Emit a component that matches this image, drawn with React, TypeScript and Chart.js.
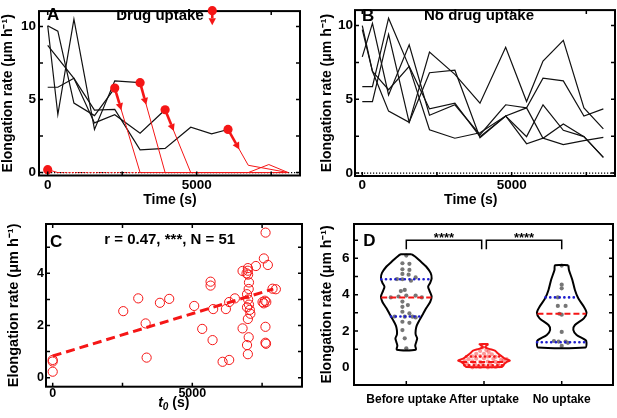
import { useEffect, useRef } from 'react';
import { Chart, registerables } from 'chart.js';

Chart.register(...registerables);

const FONT = "'Liberation Sans', Arial, Helvetica, sans-serif";
const RED = 'rgb(245, 22, 22)';
const BLUE = 'rgb(28, 28, 205)';
const GRAY = 'rgb(118, 118, 118)';
const PINK = 'rgba(250, 70, 70, 0.55)';
const Y_TITLE = 'Elongation rate (μm h⁻¹)';

// ---------------- data ----------------
const TIMES = [0, 340, 880, 1570, 2250, 3100, 3940, 4800, 5500, 6050, 6730, 7420, 8070];

// Panel A: before drug uptake (black) and after uptake (red)
const A_PRE_1 = [10.05, 9.68, 4.76, 3.9, 5.78];
const A_PRE_2 = [10.05, 3.97, 10.5, 2.95, 6.28, 6.15];
const A_PRE_3 = [8.7, null, 6.45, 3.4, 3.96, 2.7, 4.3];
const A_PRE_4 = [5.84, 5.84, 6.45, 4.28, 4.32, 1.55, 1.65, 3.1, 2.65, 2.95];
const A_POST_1 = [null, null, null, null, 5.78, 0, 0, 0, 0, 0, 0, 0, 0];
const A_POST_2 = [null, null, null, null, null, 6.15, 0, 0, 0, 0, 0, 0, 0];
const A_POST_3 = [null, null, null, null, null, null, 4.3, 0, 0, 0, 0, 0, 0];
const A_POST_4 = [null, null, null, null, null, null, null, null, null, 2.95, 0.5, null, 0];
const A_POST_5 = [0.2, 0, 0, 0, 0, 0, 0, 0, 0, 0, 0, 0.55, 0];

// Panel B: no drug uptake
const B_1 = [9.72, 6.9, 4.2, 3.44, 8.2, 6.69, 4.74, 8.53, 4.85, 7.6, 9.0, 4.42, 3.0];
const B_2 = [7.88, 10.15, 5.3, 8.7, 3.92, 4.63, 2.6, 4.63, 4.42, 6.43, 6.25, 3.87, 4.35];
const B_3 = [5.86, 5.86, 10.5, 7.2, 2.94, 2.36, 2.73, 3.87, 1.99, 2.36, 1.93, 2.2, 2.42];
const B_4 = [4.85, 4.85, 9.4, 3.44, 6.8, 6.97, 2.4, 3.87, 2.47, 4.63, 2.9, 2.47, 1.06];
const B_5 = [10.0, 6.9, 5.65, 7.23, 4.35, 4.74, 2.47, 3.87, 4.42, 2.36, 3.33, 2.47, 1.06];

// Panel C: rate vs t0
const C_T0 = [0, 0, 0, 2527, 3064, 3328, 3364, 3840, 4173, 5068, 5355, 5654, 5654, 5726, 5748, 6085, 6203, 6321, 6321, 6525, 6800, 6800, 6943, 6990, 6990, 7000, 7030, 7020, 6960, 7000, 7030, 6960, 7060, 7080, 6990, 7020, 6960, 6990, 7277, 7563, 7624, 7706, 7516, 7600, 7650, 7620, 7620, 7640, 7874, 7992, 7560];
const C_RATE = [0.68, 0.62, 0.23, 2.55, 3.04, 2.08, 0.77, 2.87, 3.02, 2.75, 1.87, 3.68, 3.53, 1.44, 2.63, 0.61, 2.63, 0.68, 2.9, 3.04, 1.89, 4.09, 4.0, 4.1, 4.2, 3.95, 3.65, 3.4, 3.2, 3.0, 2.8, 2.7, 2.6, 2.45, 2.25, 1.55, 1.25, 0.9, 4.28, 4.57, 5.56, 4.32, 2.9, 2.95, 2.9, 1.95, 1.34, 1.3, 3.41, 3.39, 2.85];
const C_FIT_T = [0, 7900];
const C_FIT_RATE = [0.83, 3.4];

// Panel D: violins
const CATS = ['Before uptake', 'After uptake', 'No uptake'];
const V1_Y = [6.22, 6.05, 5.8, 5.55, 5.2, 4.9, 4.65, 4.44, 4.2, 3.9, 3.6, 3.25, 2.95, 2.6, 2.3, 2.05, 1.8, 1.6, 1.4, 1.2, 0.97];
const V1_W = [0.07, 0.128, 0.192, 0.255, 0.313, 0.326, 0.307, 0.281, 0.3, 0.326, 0.307, 0.255, 0.217, 0.17, 0.134, 0.121, 0.121, 0.14, 0.128, 0.115, 0.121];
const V2_Y = [1.28, 1.12, 1.02, 0.92, 0.82, 0.7, 0.6, 0.48, 0.38, 0.3, 0.2, 0.1, 0.02];
const V2_W = [0.057, 0.013, 0.064, 0.14, 0.166, 0.198, 0.23, 0.268, 0.332, 0.294, 0.262, 0.249, 0.23];
const V3_Y = [5.62, 5.36, 4.81, 4.26, 3.8, 3.34, 3.01, 2.7, 2.33, 2.06, 1.78, 1.5, 1.36, 1.1];
const V3_W = [0.086, 0.093, 0.137, 0.17, 0.213, 0.285, 0.319, 0.285, 0.17, 0.149, 0.192, 0.307, 0.319, 0.307];
const V_QUART = [[2.8, 3.85, 4.85], [0.12, 0.3, 0.6], [1.38, 2.95, 3.85]];

const V1_DX = [-0.05, 0.04, -0.05, 0.04, -0.05, 0.03, -0.05, 0.06, 0.12, -0.02, -0.07, -0.1, 0.0, 0.12, -0.05, 0.02, -0.05, -0.05, 0.04, -0.02, 0.08, 0.12, -0.05, 0.04, -0.05, -0.02, 0.0, 0.0, -0.12, -0.2, 0.2, -0.15];
const V1_V = [5.73, 5.7, 5.4, 5.36, 5.14, 5.1, 4.85, 4.77, 4.95, 4.26, 4.2, 3.9, 3.95, 3.95, 3.62, 3.43, 3.33, 3.06, 2.97, 2.79, 2.79, 2.75, 2.51, 2.45, 2.05, 1.6, 1.05, 6.15, 4.86, 3.85, 3.85, 2.8];
const V2_DX = [-0.02, 0.03, -0.05, 0.06, -0.1, 0.0, 0.1, -0.15, -0.05, 0.05, 0.15, -0.2, -0.1, 0.0, 0.12, 0.22, 0.29, -0.25, -0.15, -0.05, 0.05, 0.15, 0.25, -0.22, -0.12, -0.02, 0.08, 0.18, -0.2, -0.1, 0.0, 0.1, 0.2, -0.15, -0.05, 0.05, 0.15];
const V2_V = [1.1, 0.95, 0.9, 0.85, 0.75, 0.75, 0.72, 0.6, 0.62, 0.6, 0.58, 0.45, 0.48, 0.5, 0.47, 0.42, 0.45, 0.35, 0.33, 0.3, 0.32, 0.3, 0.36, 0.2, 0.22, 0.18, 0.2, 0.22, 0.08, 0.05, 0.08, 0.05, 0.07, 0.0, 0.02, 0.0, 0.02];
const V3_DX = [0, 0, 0, -0.05, -0.05, 0.05, 0, -0.03, 0, -0.1, -0.04, 0.08, 0, 0.05];
const V3_V = [5.6, 4.55, 4.35, 3.85, 3.38, 3.38, 2.9, 2.95, 1.95, 1.45, 1.42, 1.35, 1.18, 1.42];

const BRACKETS = [[0, 0.97], [1.03, 2]];
const BRACKET_TOP = 7.0;
const BRACKET_LEG = 6.5;
const STARS = '****';

// ---------------- helpers ----------------
type P = { x: number; y: number };
const pts = (xs: number[], ys: (number | null)[]): P[] =>
  ys.map((y, i) => (y == null ? null : { x: xs[i], y })).filter((p): p is P => p !== null);

const line = (data: P[], color: string, width: number, extra: any = {}) => ({
  data, showLine: true, borderColor: color, borderWidth: width, pointRadius: 0,
  fill: false, tension: 0, ...extra,
});

function halfAt(ys: number[], ws: number[], v: number) {
  for (let i = 0; i < ys.length - 1; i++) {
    const a = ys[i], b = ys[i + 1];
    if ((v <= a && v >= b) || (v >= a && v <= b)) {
      const t = (v - a) / (b - a || 1);
      return ws[i] + t * (ws[i + 1] - ws[i]);
    }
  }
  return ws[ws.length - 1];
}

function violinPath(c: number, ys: number[], ws: number[]): P[] {
  const right = ys.map((y, i) => ({ x: c + ws[i], y }));
  const left = ys.map((y, i) => ({ x: c - ws[i], y })).reverse();
  return [...right, ...left, right[0]];
}

function drawArrow(ctx: CanvasRenderingContext2D, x0: number, y0: number, dx: number, dy: number, len: number) {
  const d = Math.hypot(dx, dy) || 1;
  const ux = dx / d, uy = dy / d;
  const hl = 7, hw = 3.7;
  const tx = x0 + ux * len, ty = y0 + uy * len;
  const bx = tx - ux * hl, by = ty - uy * hl;
  ctx.save();
  ctx.strokeStyle = RED; ctx.fillStyle = RED; ctx.lineWidth = 2.6;
  ctx.beginPath(); ctx.moveTo(x0, y0); ctx.lineTo(bx, by); ctx.stroke();
  ctx.beginPath(); ctx.moveTo(tx, ty);
  ctx.lineTo(bx - uy * hw, by + ux * hw); ctx.lineTo(bx + uy * hw, by - ux * hw);
  ctx.closePath(); ctx.fill();
  ctx.restore();
}

type Run = { t: string; size: number; italic?: boolean; dy?: number };
type Txt = { runs: Run[]; x: number; y: number; align?: 'left' | 'center'; color?: string };
const fontOf = (r: Run) => `${r.italic ? 'italic ' : ''}bold ${r.size}px ${FONT}`;
const T = (t: string, size: number, x: number, y: number, align: 'left' | 'center' = 'center'): Txt => ({ runs: [{ t, size }], x, y, align });

function drawTexts(ctx: CanvasRenderingContext2D, items: Txt[]) {
  ctx.save();
  ctx.textBaseline = 'alphabetic';
  ctx.textAlign = 'left';
  for (const it of items) {
    let total = 0;
    for (const r of it.runs) { ctx.font = fontOf(r); total += ctx.measureText(r.t).width; }
    let x = it.align === 'left' ? it.x : it.x - total / 2;
    ctx.fillStyle = it.color || '#000';
    for (const r of it.runs) {
      ctx.font = fontOf(r);
      ctx.fillText(r.t, x, it.y + (r.dy || 0));
      x += ctx.measureText(r.t).width;
    }
  }
  ctx.restore();
}

const framePlugin = (xt: number[], yt: number[], topTicks = true) => ({
  id: 'frame',
  afterDatasetsDraw(chart: any) {
    const { ctx, chartArea: a, scales } = chart;
    const L = 4;
    ctx.save();
    ctx.strokeStyle = '#000';
    ctx.lineWidth = 1.5;
    ctx.beginPath();
    xt.forEach((v) => {
      const p = scales.x.getPixelForValue(v);
      ctx.moveTo(p, a.bottom); ctx.lineTo(p, a.bottom - L);
      if (topTicks) { ctx.moveTo(p, a.top); ctx.lineTo(p, a.top + L); }
    });
    yt.forEach((v) => {
      const p = scales.y.getPixelForValue(v);
      ctx.moveTo(a.left, p); ctx.lineTo(a.left + L, p);
      ctx.moveTo(a.right, p); ctx.lineTo(a.right - L, p);
    });
    ctx.stroke();
    ctx.lineWidth = 2;
    ctx.strokeRect(a.left, a.top, a.right - a.left, a.bottom - a.top);
    ctx.restore();
  },
});

const zeroLinePlugin = {
  id: 'zeroLine',
  beforeDatasetsDraw(chart: any) {
    const { ctx, chartArea: a, scales } = chart;
    const y = scales.y.getPixelForValue(0);
    ctx.save();
    ctx.strokeStyle = '#000';
    ctx.lineWidth = 1.2;
    ctx.setLineDash([1.2, 1.8]);
    ctx.beginPath(); ctx.moveTo(a.left, y); ctx.lineTo(a.right, y); ctx.stroke();
    ctx.restore();
  },
};

const textPlugin = (fn: (chart: any) => Txt[], extra?: (chart: any) => void) => ({
  id: 'texts',
  afterDraw(chart: any) {
    drawTexts(chart.ctx, fn(chart));
    if (extra) extra(chart);
  },
});

interface AxisSpec {
  xmin: number; xmax: number; ymin: number; ymax: number;
  xTicks: number[]; yTicks: number[];
  xLabel: (v: number) => string;
  yW: number; xH: number;
  tickSize: number; xTickSize: number; xPad: number; yPad: number;
  yTitlePad: number; yTitleSize: number;
  pad: { left: number; top: number; right: number; bottom: number };
}

function makeOptions(s: AxisSpec): any {
  return {
    animation: false,
    responsive: false,
    events: [],
    layout: { padding: s.pad },
    plugins: { legend: { display: false }, tooltip: { enabled: false } },
    scales: {
      x: {
        type: 'linear', min: s.xmin, max: s.xmax,
        grid: { display: false, drawTicks: false }, border: { display: false },
        afterBuildTicks: (sc: any) => { sc.ticks = s.xTicks.map((v) => ({ value: v })); },
        afterFit: (sc: any) => { sc.height = s.xH; },
        ticks: {
          font: { family: FONT, size: s.xTickSize, weight: 'bold' }, color: '#000',
          padding: s.xPad, autoSkip: false, maxRotation: 0, minRotation: 0,
          callback: (v: number) => s.xLabel(v),
        },
      },
      y: {
        type: 'linear', min: s.ymin, max: s.ymax,
        grid: { display: false, drawTicks: false }, border: { display: false },
        afterBuildTicks: (sc: any) => { sc.ticks = s.yTicks.map((v) => ({ value: v })); },
        afterFit: (sc: any) => { sc.width = s.yW; },
        ticks: {
          font: { family: FONT, size: s.tickSize, weight: 'bold' }, color: '#000',
          padding: s.yPad, autoSkip: false, callback: (v: number) => String(v),
        },
        title: {
          display: true, text: Y_TITLE, color: '#000',
          font: { family: FONT, size: s.yTitleSize, weight: 'bold' },
          padding: { top: s.yTitlePad, bottom: 0 },
        },
      },
    },
  };
}

// ---------------- panels ----------------
function buildA(): any {
  const posts = [A_POST_1, A_POST_2, A_POST_3, A_POST_4, A_POST_5];
  const pres = [A_PRE_1, A_PRE_2, A_PRE_3, A_PRE_4];
  const zeroDash = {
    segment: {
      borderDash: (c: any) => (c.p0.parsed.y === 0 && c.p1.parsed.y === 0 ? [2.2, 1.3] : undefined),
    },
  };
  const datasets = [
    ...posts.map((d) => line(pts(TIMES, d), RED, 1, {
      ...zeroDash,
      pointRadius: (c: any) => (c.dataIndex === 0 ? 4.6 : 0),
      pointBackgroundColor: RED, pointBorderWidth: 0,
    })),
    ...pres.map((d) => line(pts(TIMES, d), '#111', 1.2)),
  ];
  return {
    type: 'scatter',
    data: { datasets },
    options: makeOptions({
      xmin: -292, xmax: 8466, ymin: -0.2, ymax: 11.05,
      xTicks: [0, 5000], yTicks: [0, 5, 10], xLabel: (v) => String(v),
      yW: 39, xH: 34.5, tickSize: 13.5, xTickSize: 13.5, xPad: 1.2, yPad: 3,
      yTitlePad: 0, yTitleSize: 14, pad: { left: 0, top: 2, right: 8, bottom: 0 },
    }),
    plugins: [
      zeroLinePlugin,
      {
        id: 'arrows',
        afterDatasetsDraw(chart: any) {
          [0, 1, 2, 3].forEach((i) => {
            const d = chart.getDatasetMeta(i).data;
            if (d.length < 2) return;
            drawArrow(chart.ctx, d[0].x, d[0].y, d[1].x - d[0].x, d[1].y - d[0].y, 23);
          });
        },
      },
      framePlugin([0, 2500, 5000, 7500], [0, 2.5, 5, 7.5, 10]),
      textPlugin(
        () => [T('A', 17, 47, 20, 'left'), T('Drug uptake', 15, 160, 20), T('Time (s)', 14, 170, 203.5)],
        (chart: any) => {
          const ctx = chart.ctx as CanvasRenderingContext2D;
          ctx.save();
          ctx.font = `bold 15px ${FONT}`;
          const w = ctx.measureText('Drug uptake').width;
          const cx = 160 + w / 2 + 8.5, cy = 10.7;
          drawArrow(ctx, cx, cy, 0, 1, 14.5);
          ctx.fillStyle = RED;
          ctx.beginPath(); ctx.arc(cx, cy, 4.6, 0, Math.PI * 2); ctx.fill();
          ctx.restore();
        },
      ),
    ],
  };
}

function buildB(): any {
  const datasets = [B_1, B_2, B_3, B_4, B_5].map((d) => line(pts(TIMES, d), '#111', 1.2));
  return {
    type: 'scatter',
    data: { datasets },
    options: makeOptions({
      xmin: -244, xmax: 8460, ymin: -0.2, ymax: 11.05,
      xTicks: [0, 5000], yTicks: [0, 5, 10], xLabel: (v) => String(v),
      yW: 47, xH: 34, tickSize: 13.5, xTickSize: 13.5, xPad: 1, yPad: 2,
      yTitlePad: 10.3, yTitleSize: 14, pad: { left: 0, top: 2, right: 2, bottom: 0 },
    }),
    plugins: [
      zeroLinePlugin,
      framePlugin([0, 2500, 5000, 7500], [0, 2.5, 5, 7.5, 10]),
      textPlugin(() => [T('B', 17, 54, 21, 'left'), T('No drug uptake', 15, 171, 20), T('Time (s)', 14, 162.8, 203.5)]),
    ],
  };
}

function buildC(): any {
  const datasets = [
    line(pts(C_FIT_T, C_FIT_RATE), RED, 3, { borderDash: [9, 5] }),
    {
      data: pts(C_T0, C_RATE), showLine: false, pointRadius: 4.6, pointBorderWidth: 1,
      pointBorderColor: RED, pointBackgroundColor: 'rgba(0,0,0,0)',
    },
  ];
  return {
    type: 'scatter',
    data: { datasets },
    options: makeOptions({
      xmin: -240, xmax: 8929, ymin: -0.345, ymax: 5.89,
      xTicks: [0, 5000], yTicks: [0, 2, 4], xLabel: (v) => String(v),
      yW: 46, xH: 31.3, tickSize: 12.5, xTickSize: 12.5, xPad: -0.6, yPad: 2,
      yTitlePad: 5.6, yTitleSize: 14.5, pad: { left: 0, top: 14, right: 6, bottom: 0 },
    }),
    plugins: [
      framePlugin([0, 2500, 5000, 7500], [0, 1, 2, 3, 4, 5]),
      textPlugin(() => [
        T('C', 17, 50, 36.5, 'left'),
        T('r = 0.47, ***, N = 51', 15, 169.7, 34),
        { runs: [{ t: 't', size: 14, italic: true }, { t: '0', size: 10, italic: true, dy: 3 }, { t: ' (s)', size: 14 }], x: 173.8, y: 196.5, align: 'center' },
      ]),
    ],
  };
}

function buildD(): any {
  const profiles = [[V1_Y, V1_W], [V2_Y, V2_W], [V3_Y, V3_W]];
  const outlineColors = ['#000', RED, '#000'];
  const quartLines: any[] = [];
  profiles.forEach(([ys, ws], c) => {
    const [q1, med, q3] = V_QUART[c];
    const seg = (v: number) => { const w = halfAt(ys, ws, v); return [{ x: c - w, y: v }, { x: c + w, y: v }]; };
    const dotColor = c === 1 ? RED : BLUE;
    quartLines.push(line(seg(med), RED, 2, { borderDash: [6, 3] }));
    [q1, q3].forEach((q) => quartLines.push(line(seg(q), dotColor, 2.6, { borderDash: [0.1, 4.6], borderCapStyle: 'round' })));
  });
  const outlines = profiles.map(([ys, ws], c) => line(violinPath(c, ys, ws), outlineColors[c], 2, { tension: 0.25 }));
  const brackets = BRACKETS.map(([a, b]) => line([
    { x: a, y: BRACKET_LEG }, { x: a, y: BRACKET_TOP }, { x: b, y: BRACKET_TOP }, { x: b, y: BRACKET_LEG },
  ], '#000', 1.5));
  const dotSet = (c: number, dx: number[], v: number[], color: string) => ({
    data: v.map((y, i) => ({ x: c + dx[i], y })), showLine: false, pointRadius: 2.1,
    pointBorderWidth: 0, pointBackgroundColor: color,
  });
  const datasets = [
    ...quartLines,
    ...brackets,
    ...outlines,
    dotSet(0, V1_DX, V1_V, GRAY),
    dotSet(1, V2_DX, V2_V, PINK),
    dotSet(2, V3_DX, V3_V, GRAY),
  ];
  return {
    type: 'scatter',
    data: { datasets },
    options: makeOptions({
      xmin: -0.673, xmax: 2.66, ymin: -0.97, ymax: 7.89,
      xTicks: [0, 1, 2], yTicks: [0, 2, 4, 6], xLabel: (v) => CATS[v] ?? '',
      yW: 46, xH: 33, tickSize: 13.5, xTickSize: 12, xPad: 7.8, yPad: 4.5,
      yTitlePad: 10.9, yTitleSize: 14, pad: { left: 0, top: 14, right: 2, bottom: 0 },
    }),
    plugins: [
      framePlugin([0, 1, 2], [1, 2, 3, 4, 5, 6, 7], false),
      textPlugin((chart: any) => {
        const { x, y } = chart.scales;
        const items: Txt[] = [T('D', 17, 55.3, 36, 'left')];
        BRACKETS.forEach(([a, b]) => items.push(T(STARS, 13, x.getPixelForValue((a + b) / 2), y.getPixelForValue(BRACKET_TOP) + 1.5)));
        return items;
      }),
    ],
  };
}

function Panel({ left, top, width, height, build }: { left: number; top: number; width: number; height: number; build: () => any }) {
  const ref = useRef<HTMLCanvasElement>(null);
  useEffect(() => {
    const chart = new Chart(ref.current as HTMLCanvasElement, build());
    return () => chart.destroy();
  }, [build]);
  return (
    <canvas
      ref={ref}
      width={width}
      height={height}
      style={{ position: 'absolute', left, top, width, height }}
    />
  );
}

export default function App() {
  return (
    <div style={{ position: 'absolute', left: 0, top: 0, width: 617, height: 418, background: '#fff', overflow: 'hidden' }}>
      <Panel left={0} top={0} width={308} height={210} build={buildA} />
      <Panel left={308} top={0} width={309} height={210} build={buildB} />
      <Panel left={0} top={210} width={308} height={208} build={buildC} />
      <Panel left={308} top={210} width={309} height={208} build={buildD} />
    </div>
  );
}
